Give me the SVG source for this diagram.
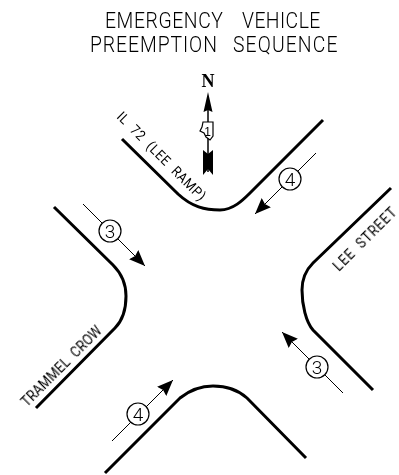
<svg xmlns="http://www.w3.org/2000/svg" width="399" height="475" viewBox="0 0 399 475">
<style>
.road{fill:none;stroke:#000;stroke-width:3;stroke-linecap:butt}
.lead{fill:none;stroke:#000;stroke-width:1}
.c{fill:#fff;stroke:#000;stroke-width:1.2}
.t{font-family:"Roboto","Liberation Sans",sans-serif;font-weight:300;fill:#000}
.l{font-family:"Roboto","Liberation Sans",sans-serif;font-weight:400;fill:#000;word-spacing:4px}
.n{font-family:"Roboto","Liberation Sans",sans-serif;font-weight:300;font-size:19px;text-anchor:middle;fill:#000}
.g{filter:url(#gray)}
</style>
<defs>
<filter id="gray" color-interpolation-filters="sRGB" x="-10%" y="-10%" width="120%" height="120%"><feOffset dx="0" dy="0"/></filter>
<marker id="ah" markerUnits="userSpaceOnUse" markerWidth="17" markerHeight="14" refX="16" refY="7" orient="auto"><path d="M0 0.500L16 7L0 13.500L2 7Z" fill="#000"/></marker>
</defs>
<rect width="399" height="475" fill="#fff"/>
<g id="title" class="g">
<text class="t" font-size="21.500" textLength="131" lengthAdjust="spacing" transform="translate(105 28) scale(.9 1)">EMERGENCY</text>
<text class="t" font-size="21.500" textLength="87" lengthAdjust="spacing" transform="translate(242 28) scale(.9 1)">VEHICLE</text>
<text class="t" font-size="21.500" textLength="141" lengthAdjust="spacing" transform="translate(90 51.500) scale(.9 1)">PREEMPTION</text>
<text class="t" font-size="21.500" textLength="116" lengthAdjust="spacing" transform="translate(233 51.500) scale(.9 1)">SEQUENCE</text>
</g>
<g id="north">
<text class="g" x="208" y="87" font-family="Liberation Serif,serif" font-weight="700" font-size="18" text-anchor="middle">N</text>
<path d="M208 110V172" stroke="#000" stroke-width="1.500" fill="none"/>
<path d="M208 92L212.500 112L208 110L203.500 112Z" fill="#000"/>
<path d="M203 150L208 154L213 150V175L208 169L203 175Z" fill="#000"/>
<path id="shield" d="M203 122H213V136L210 140L206 137L204 133L200 131L202 127Z" fill="#fff" stroke="#000" stroke-width="1.200"/>
<text class="g" x="207.500" y="136" font-family="Liberation Sans,sans-serif" font-size="12" text-anchor="middle">1</text>
</g>
<g id="roads">
<path class="road" d="M122 139L178 194C192 207 205 210 220 210C233 210 243 200 250 193L323 120"/>
<path class="road" d="M54 207L113 265C122 274 126 285 126 296C126 310 122 321 115 328L36 408"/>
<path class="road" d="M391 188L313 263C306 270 302 280 302 290C302 305 306 322 313 330L373 390"/>
<path class="road" d="M105 473L180 398C190 390 200 386 213 386C226 386 237 389 247 398L306 458"/>
</g>
<g id="connectors">
<path class="lead" d="M316 153L255 214" marker-end="url(#ah)"/>
<path class="lead" d="M83 204L145 266" marker-end="url(#ah)"/>
<path class="lead" d="M343 393L282 332" marker-end="url(#ah)"/>
<path class="lead" d="M112 441L173 380" marker-end="url(#ah)"/>
</g>
<g id="phase-4-top"><circle class="c" cx="290" cy="179" r="11"/><text class="n g" x="290" y="186">4</text></g>
<g id="phase-3-left"><circle class="c" cx="110" cy="231" r="11"/><text class="n g" x="110" y="238">3</text></g>
<g id="phase-3-right"><circle class="c" cx="317" cy="367" r="11"/><text class="n g" x="317" y="374">3</text></g>
<g id="phase-4-bottom"><circle class="c" cx="138" cy="414" r="11"/><text class="n g" x="138" y="421">4</text></g>
<g id="labels" class="g">
<text class="l" font-size="14" textLength="132" lengthAdjust="spacing" transform="translate(116 117.500) rotate(45) scale(.9 1)">IL 72 (LEE RAMP)</text>
<text class="l" font-size="14.500" textLength="92" lengthAdjust="spacing" transform="translate(339 272) rotate(-45) scale(.9 1)">LEE STREET</text>
<text class="l" font-size="14.500" textLength="119" lengthAdjust="spacing" transform="translate(27 407.500) rotate(-45) scale(.9 1)">TRAMMEL CROW</text>
</g>
</svg>
